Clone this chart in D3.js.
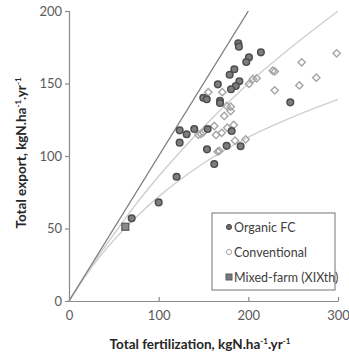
<!DOCTYPE html>
<html>
<head>
<meta charset="utf-8">
<script src="https://cdn.jsdelivr.net/npm/d3@7"></script>
<style>
  body { margin: 0; background: #fff; }
  svg { display: block; font-family: Lato, 'Open Sans', sans-serif; }
</style>
</head>
<body>
<svg id="chart"></svg>
<script>
// values: [fertilization, export]
const organicFC = [
  [188.8, 177.7], [189.5, 175.4], [214, 171.5], [200.7, 168], [197.7, 164.8],
  [184.4, 159.8], [179.2, 156], [190, 151.5], [186, 148.3], [180.7, 146],
  [166, 149.4], [149.8, 140.2], [153.6, 139.1], [168.4, 138], [168.4, 136.5],
  [246.8, 137], [181.4, 117.2], [153.9, 104.6], [175.8, 107], [191.4, 106.7],
  [162, 94.5], [123.4, 117.7], [131.2, 115], [139.7, 118.6], [154.6, 118.6],
  [123.4, 109.2], [120, 85.7], [69.9, 57], [100, 68]
]
const conventional = [
  [298.5, 170.8], [259.5, 164.6], [227.2, 158.8], [229.5, 158.3], [275.8, 154],
  [256.9, 148.7], [229.4, 145.3], [209.3, 153.6], [205.2, 153.1], [200.7, 149.7],
  [171, 144], [155.4, 144], [175.8, 134.5], [180.3, 134], [180.3, 131],
  [173.2, 127.6], [162, 120.7], [176.5, 119.5], [183.7, 121.4], [147.2, 115.2],
  [144.2, 114.7], [149.8, 116.3], [170.3, 116], [164, 114.5], [185.1, 110.6],
  [197, 111.5], [165.8, 103], [167.6, 103.5]
]
const mixedFarm = [[62.8, 51.2]]

// reference lines
const oneToOne = [[0, 0], [200, 200]]
const curveX = [0, 25, 50, 75, 100, 150, 200, 250, 300]
const upperCurveY = [0, 24, 46, 67, 86, 120, 150, 176, 200]
const lowerCurveY = [0, 23, 42, 58, 72, 95, 113, 127, 139]

const xTicks = [0, 100, 200, 300]
const yTicks = [0, 50, 100, 150, 200]
const legendLabels = ['Organic FC', 'Conventional', 'Mixed-farm (XIXth)']

const width = 349
const height = 356

const svg = d3.select('#chart')
  .attr('width', width)
  .attr('height', height)

const x = d3.scaleLinear().domain([0, 300]).range([69, 338])
const y = d3.scaleLinear().domain([0, 200]).range([301, 11])

// axes
const xAxis = svg.append('g')
  .attr('transform', `translate(0, ${y(0)})`)
  .call(d3.axisBottom(x).tickValues(xTicks).tickSizeInner(-4).tickSizeOuter(0).tickPadding(10))
const yAxis = svg.append('g')
  .attr('transform', `translate(${x(0)}, 0)`)
  .call(d3.axisLeft(y).tickValues(yTicks).tickSize(4).tickPadding(3))

for (const ax of [xAxis, yAxis]) {
  ax.select('.domain').attr('stroke', '#8a8a8a').attr('stroke-width', 1.2)
  ax.selectAll('.tick line').attr('stroke', '#8a8a8a').attr('stroke-width', 1.2)
  ax.selectAll('.tick text')
    .attr('fill', '#5a5a5a')
    .style('font-size', '13px')
    .style('font-family', 'Lato, sans-serif')
}
xAxis.selectAll('.tick').filter(d => d === 0).select('line').remove()

// lines
const line = d3.line().x(d => x(d[0])).y(d => y(d[1]))
const smooth = d3.line().x(d => x(d[0])).y(d => y(d[1])).curve(d3.curveMonotoneX)

svg.append('path')
  .attr('d', smooth(curveX.map((v, i) => [v, lowerCurveY[i]])))
  .attr('fill', 'none').attr('stroke', '#cfcfcf').attr('stroke-width', 1.4)
svg.append('path')
  .attr('d', smooth(curveX.map((v, i) => [v, upperCurveY[i]])))
  .attr('fill', 'none').attr('stroke', '#cfcfcf').attr('stroke-width', 1.4)
svg.append('path')
  .attr('d', line(oneToOne))
  .attr('fill', 'none').attr('stroke', '#808080').attr('stroke-width', 1.4)

// points
const diamond = d3.symbol().type(d3.symbolDiamond2).size(34)
svg.append('g')
  .selectAll('path')
  .data(conventional)
  .join('path')
  .attr('d', diamond)
  .attr('transform', d => `translate(${x(d[0])}, ${y(d[1])})`)
  .attr('fill', 'none')
  .attr('stroke', '#a5a5a5')
  .attr('stroke-width', 1.4)

svg.append('g')
  .selectAll('circle')
  .data(organicFC)
  .join('circle')
  .attr('cx', d => x(d[0]))
  .attr('cy', d => y(d[1]))
  .attr('r', 3.3)
  .attr('fill', '#7d7d7d')
  .attr('stroke', '#4d4d4d')
  .attr('stroke-width', 1.5)

svg.append('g')
  .selectAll('rect')
  .data(mixedFarm)
  .join('rect')
  .attr('x', d => x(d[0]) - 3.5)
  .attr('y', d => y(d[1]) - 3.5)
  .attr('width', 7)
  .attr('height', 7)
  .attr('fill', '#8a8a8a')
  .attr('stroke', '#5a5a5a')
  .attr('stroke-width', 1.2)

// legend
const legend = svg.append('g').attr('transform', 'translate(212, 213)')
legend.append('rect')
  .attr('width', 123).attr('height', 77)
  .attr('fill', '#fff').attr('stroke', '#8a8a8a').attr('stroke-width', 1.2)

const rows = legend.selectAll('g.row')
  .data(legendLabels)
  .join('g')
  .attr('class', 'row')
  .attr('transform', (d, i) => `translate(0, ${14 + i * 25})`)

rows.each(function(d, i) {
  const g = d3.select(this)
  if (i === 0) {
    g.append('circle').attr('cx', 17).attr('cy', 0).attr('r', 2.6)
      .attr('fill', '#6a6a6a').attr('stroke', '#4d4d4d').attr('stroke-width', 1)
  } else if (i === 1) {
    g.append('circle').attr('cx', 17).attr('cy', 0).attr('r', 2.6)
      .attr('fill', 'none').attr('stroke', '#a5a5a5').attr('stroke-width', 1)
  } else {
    g.append('rect').attr('x', 14).attr('y', -3).attr('width', 6).attr('height', 6)
      .attr('fill', '#7a7a7a').attr('stroke', '#5a5a5a').attr('stroke-width', 1)
  }
  g.append('text')
    .attr('x', 22).attr('y', 4.5)
    .attr('fill', '#404040')
    .style('font-size', '12.5px')
    .text(d)
})

// axis titles
function title(sel, main) {
  sel.append('tspan').text(main + 'kgN.ha')
  sel.append('tspan').attr('dy', -5).style('font-size', '8px').text('-1')
  sel.append('tspan').attr('dy', 5).text('.yr')
  sel.append('tspan').attr('dy', -5).style('font-size', '8px').text('-1')
}

svg.append('text')
  .attr('x', 200).attr('y', 349)
  .attr('text-anchor', 'middle')
  .attr('fill', '#262626')
  .style('font-size', '13.5px')
  .style('font-weight', 'bold')
  .call(title, 'Total fertilization, ')

svg.append('text')
  .attr('transform', 'translate(26, 153) rotate(-90)')
  .attr('text-anchor', 'middle')
  .attr('fill', '#262626')
  .style('font-size', '13.5px')
  .style('font-weight', 'bold')
  .call(title, 'Total export, ')
</script>
</body>
</html>
